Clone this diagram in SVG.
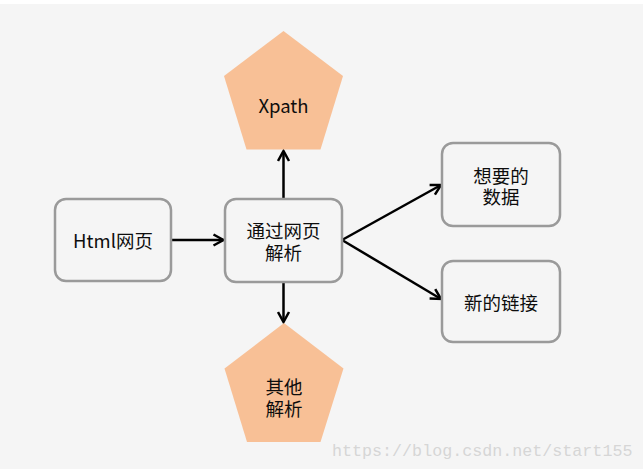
<svg xmlns="http://www.w3.org/2000/svg" width="643" height="472" viewBox="0 0 643 472">
<defs>
<style>
.box{fill:#f5f5f5;stroke:#9a9a9a;stroke-width:2.5}
.pent{fill:#f8c096;stroke:none}
.t{font-family:"Noto Sans CJK SC","Noto Sans",sans-serif;font-size:18.5px;fill:#0d0d0d;text-anchor:middle;dominant-baseline:central}
.edge{stroke:#000;stroke-width:2.5;fill:none}
.wm{font-family:"Liberation Mono",monospace;font-size:16.7px;fill:#d6d6d6}
</style>
<marker id="arr" markerUnits="userSpaceOnUse" viewBox="-12 -7 14 14" refX="0" refY="0" markerWidth="14" markerHeight="14" orient="auto">
<path d="M-10,-5.5 L0,0 L-10,5.5" fill="none" stroke="#000" stroke-width="2.5"/>
</marker>
</defs>
<rect x="0" y="0" width="643" height="472" fill="#ffffff"/>
<rect x="0" y="4" width="643" height="465" fill="#f5f5f5"/>
<g id="connectors">
<line class="edge" x1="171" y1="240" x2="223.5" y2="240" marker-end="url(#arr)"/>
<line class="edge" x1="283.5" y1="199" x2="283.5" y2="151" marker-end="url(#arr)"/>
<line class="edge" x1="283.5" y1="282" x2="283.5" y2="322" marker-end="url(#arr)"/>
<line class="edge" x1="342" y1="240" x2="441" y2="185" marker-end="url(#arr)"/>
<line class="edge" x1="342" y1="240" x2="441" y2="299" marker-end="url(#arr)"/>
</g>
<g id="node-xpath">
<polygon class="pent" points="283.5,31 343,76 320.5,149.5 246.5,149.5 224,76"/>
<text class="t" x="283.5" y="105">Xpath</text>
</g>
<g id="node-html">
<rect class="box" x="55" y="199" width="116" height="82" rx="11"/>
<text class="t" x="113" y="240">Html网页</text>
</g>
<g id="node-parse">
<rect class="box" x="225" y="199" width="117" height="83" rx="11"/>
<text class="t" x="283.5" y="230"><tspan x="283.5" y="230">通过网页</tspan><tspan x="283.5" y="252">解析</tspan></text>
</g>
<g id="node-data">
<rect class="box" x="442" y="143" width="118" height="83" rx="11"/>
<text class="t" x="501" y="174.5"><tspan x="501" y="174.5">想要的</tspan><tspan x="501" y="196">数据</tspan></text>
</g>
<g id="node-links">
<rect class="box" x="442" y="261" width="118" height="81" rx="11"/>
<text class="t" x="501" y="302">新的链接</text>
</g>
<g id="node-other">
<polygon class="pent" points="284,323 343.5,368.5 320.5,442 247,442 224.5,368.5"/>
<text class="t" x="284" y="386"><tspan x="284" y="386">其他</tspan><tspan x="284" y="407.5">解析</tspan></text>
</g>
<text class="wm" x="332" y="456">https://blog.csdn.net/start155</text>
</svg>
